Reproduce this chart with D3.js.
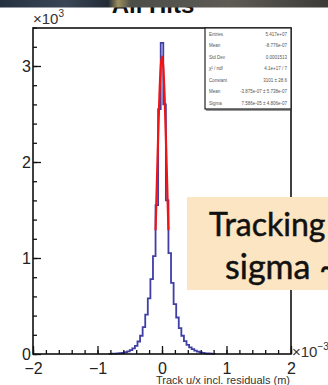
<!DOCTYPE html>
<html><head><meta charset="utf-8">
<script src="https://cdn.jsdelivr.net/npm/d3@7"></script>
<style>html,body{margin:0;padding:0;background:#fff;overflow:hidden}</style>
</head><body>
<svg id="c" width="328" height="385"></svg>
<script>
// ---- data (counts in units of 10^3, x in units of 10^-3 m) ----
const binCenters = [-0.80,-0.76,-0.72,-0.68,-0.64,-0.60,-0.56,-0.52,-0.48,-0.44,-0.40,-0.36,-0.32,-0.28,-0.24,-0.20,-0.16,-0.12,-0.08,-0.04,0.00,
                    0.04,0.08,0.12,0.16,0.20,0.24,0.28,0.32,0.36,0.40,0.44,0.48,0.52,0.56,0.60,0.64,0.68,0.72,0.76,0.80];
const binCounts  = [0.002,0.003,0.004,0.006,0.008,0.012,0.018,0.027,0.040,0.058,0.085,0.13,0.19,0.28,0.41,0.58,0.78,1.02,1.55,2.55,3.24,
                    2.60,1.60,1.05,0.74,0.52,0.38,0.27,0.19,0.135,0.095,0.068,0.050,0.036,0.025,0.017,0.011,0.007,0.005,0.003,0.002];
const binWidth = 0.04;
const fitX = [-0.10,-0.08,-0.06,-0.04,-0.02,0.00,0.02,0.04,0.06,0.08,0.10];
const fitY = [1.29,1.77,2.26,2.69,2.99,3.10,2.99,2.69,2.26,1.77,1.29];
const xTicks = [-2,-1,0,1,2];
const yTicks = [0,1,2,3];
const statLabels = ["Entries","Mean","Std Dev","\u03c7\u00b2 / ndf","Constant","Mean","Sigma"];
const statValues = ["5.417e+07","-8.776e-07","0.0001513","4.1e+17 / 7","3101 \u00b1 28.6","-3.875e-07 \u00b1 5.738e-07","7.586e-05 \u00b1 4.806e-07"];
const title = "All Hits";
const xTitle = "Track u/x incl. residuals (m)";
const noteLines = ["Tracking","sigma ~"];

const svg = d3.select("#c");
const L=33,R=291,T=28,B=354;
const x = d3.scaleLinear().domain([-2,2]).range([L,R]);
const y = d3.scaleLinear().domain([0,3.4]).range([B,B-3.4*96]);

// title (partly hidden behind photo strip)
svg.append("text").attr("x",153).attr("y",13).attr("text-anchor","middle")
  .attr("font-family","Liberation Sans, Arial").attr("font-size",24).attr("font-weight","bold").attr("fill","#111").text(title);
const g0 = svg.append("defs").append("linearGradient").attr("id","strip");
[[0,"#263140"],[0.2,"#3a4656"],[0.33,"#222a36"],[0.36,"#9c9060"],[0.4,"#4d4d48"],[0.7,"#5e5b55"],[1,"#3c3b38"]]
  .forEach(s=>g0.append("stop").attr("offset",s[0]).attr("stop-color",s[1]));
svg.append("rect").attr("x",0).attr("y",0).attr("width",328).attr("height",7.5).attr("fill","url(#strip)");

// histogram step line
const pts=[];
binCenters.forEach((c,i)=>{pts.push([c-binWidth/2,binCounts[i]]);pts.push([c+binWidth/2,binCounts[i]]);});
pts.unshift([binCenters[0]-binWidth/2,0]); pts.push([binCenters[binCenters.length-1]+binWidth/2,0]);
svg.append("path").attr("d",d3.line().x(d=>x(d[0])).y(d=>y(d[1]))(pts))
  .attr("fill","none").attr("stroke","#2a2a9c").attr("stroke-width",1.8).attr("stroke-opacity",0.9);

// fit
svg.append("path").attr("d",d3.line().curve(d3.curveMonotoneX).x((d,i)=>x(fitX[i])).y(d=>y(d))(fitY))
  .attr("fill","none").attr("stroke","#f01414").attr("stroke-width",2.2);

// axes
const font="Liberation Sans, Arial";
const yMinor = d3.range(0,3.41,0.2).map(v=>+v.toFixed(1));
svg.append("g").attr("transform",`translate(${L},0)`).call(d3.axisLeft(y).tickValues(yMinor).tickSize(-4).tickFormat("")).call(g=>g.select(".domain").remove()).selectAll("line").attr("stroke","#111").attr("stroke-width",1.3);
svg.append("g").attr("transform",`translate(${L},0)`).call(d3.axisLeft(y).tickValues(yTicks).tickSize(-8).tickPadding(2).tickFormat(d3.format("d")))
  .call(g=>{g.select(".domain").remove();g.selectAll("line").attr("stroke","#111").attr("stroke-width",1.3);
    g.selectAll("text").attr("font-family",font).attr("font-size",16).attr("fill","#222");});
const xMinor = d3.range(-2,2.01,0.2).map(v=>+v.toFixed(1));
svg.append("g").attr("transform",`translate(0,${B})`).call(d3.axisBottom(x).tickValues(xMinor).tickSize(-4).tickFormat("")).call(g=>g.select(".domain").remove()).selectAll("line").attr("stroke","#111").attr("stroke-width",1.3);
svg.append("g").attr("transform",`translate(0,${B})`).call(d3.axisBottom(x).tickValues(xTicks).tickSize(-8).tickPadding(9).tickFormat(d3.format("d")))
  .call(g=>{g.select(".domain").remove();g.selectAll("line").attr("stroke","#111").attr("stroke-width",1.3);
    g.selectAll("text").attr("font-family",font).attr("font-size",16).attr("fill","#222");});

// frame
svg.append("rect").attr("x",L).attr("y",T).attr("width",R-L).attr("height",B-T).attr("fill","none").attr("stroke","#111").attr("stroke-width",1.6);

// exponent labels
const e1=svg.append("text").attr("x",33).attr("y",24).attr("font-family",font).attr("font-size",15).attr("fill","#333");
e1.append("tspan").text("\u00d710"); e1.append("tspan").attr("font-size",10).attr("dy",-7).text("3");
const e2=svg.append("text").attr("x",292).attr("y",357).attr("font-family",font).attr("font-size",15).attr("fill","#333");
e2.append("tspan").text("\u00d710"); e2.append("tspan").attr("font-size",10).attr("dy",-7).text("\u22123");

// x title
svg.append("text").attr("x",290).attr("y",384).attr("text-anchor","end").attr("font-family",font).attr("font-size",11).attr("fill","#333").text(xTitle);

// stats box
svg.append("rect").attr("x",205).attr("y",T).attr("width",R-205).attr("height",81).attr("fill","#fff").attr("stroke","#222").attr("stroke-width",1.2);
svg.append("line").attr("x1",206).attr("x2",R).attr("y1",T+82).attr("y2",T+82).attr("stroke","#333").attr("stroke-width",1.2);
const rows=[34,45,57,68,80,91,103];
statLabels.forEach((s,i)=>{
  svg.append("text").attr("x",209).attr("y",rows[i]+1.5).attr("font-family",font).attr("font-size",4.5).attr("fill","#555").text(s);
  svg.append("text").attr("x",287).attr("y",rows[i]+1.5).attr("text-anchor","end").attr("font-family",font).attr("font-size",4.5).attr("fill","#555").text(statValues[i]);
});

// overlay note box
svg.append("rect").attr("x",187).attr("y",197).attr("width",141).attr("height",93).attr("fill","#fbe5c2");
svg.append("text").attr("x",209).attr("y",236).attr("font-family","Lato, Open Sans, sans-serif").attr("font-size",32).attr("fill","#111").attr("stroke","#111").attr("stroke-width",0.5).text(noteLines[0]);
svg.append("text").attr("x",225).attr("y",279).attr("font-family","Lato, Open Sans, sans-serif").attr("font-size",34).attr("fill","#111").attr("stroke","#111").attr("stroke-width",0.5).text(noteLines[1]);
</script>
</body></html>
